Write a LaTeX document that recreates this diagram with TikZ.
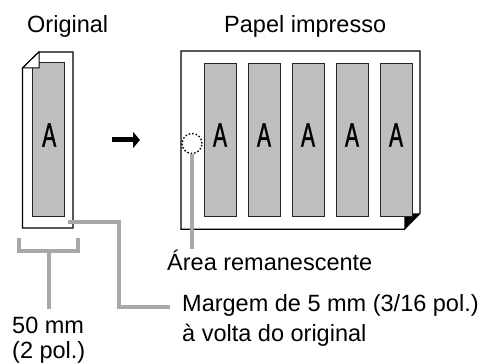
\documentclass[tikz,border=0pt]{standalone}
\usepackage{fontspec}
\setmainfont{Liberation Sans}
\newfontfamily\Afont[FakeBold=1.6]{Liberation Sans}
\usetikzlibrary{arrows.meta}
\definecolor{pagegray}{HTML}{BDBEC0}
\definecolor{leadgray}{HTML}{A6A8AB}
\begin{document}
\begin{tikzpicture}[x=1pt,y=-1pt,
  sheet/.style={draw=black,line width=1.3pt,fill=white,line join=miter},
  printarea/.style={draw=black!85,line width=1pt,fill=pagegray},
  leader/.style={draw=leadgray,line width=3.3pt},
  lbl/.style={anchor=base west,inner sep=0pt,font=\fontsize{23.5}{28}\selectfont},
  bigA/.style={inner sep=0pt,font=\Afont\fontsize{34}{34}\selectfont}]
\useasboundingbox (0,0) rectangle (486,363);

% titles
\node[lbl] (torig) at (27,33) {Original};
\node[lbl] (tprint) at (224,33) {Papel impresso};

% original sheet
\draw[sheet] (39,52) -- (73,52) -- (73,228) -- (22.5,228) -- (22.5,68) -- cycle;
\draw[printarea] (32.3,63) rectangle (64.3,216);
\draw[sheet,line width=1pt] (22.5,68) -- (39,52) -- (39,68) -- cycle;
\node[bigA] (aorig) at (49.2,135) {\scalebox{0.62}[1]{A}};

% arrow
\coordinate (arrS) at (112,140);
\coordinate (arrE) at (140,140);
\draw[line width=5pt,-{Triangle[length=7pt,width=16pt]}] (arrS) -- (arrE);

% printed paper
\draw[sheet] (181,51) -- (420,51) -- (420,213.3) -- (404.3,229.3) -- (181,229.3) -- cycle;
\fill[black] (404.3,213.3) -- (420,213.3) -- (404.3,229.3) -- cycle;
\foreach \i in {0,...,4}{
  \draw[printarea] (204+44*\i,64) rectangle (236+44*\i,216);
  \node[bigA] (a\i) at (220+44*\i,135) {\scalebox{0.62}[1]{A}};
}

% remaining area
\node[circle,draw=black,dash pattern=on 1.5pt off 2pt,line width=1.4pt,minimum size=20pt,inner sep=0pt] (rem) at (192,143.5) {};
\coordinate (remEnd) at (192,249);
\draw[leader] (rem.south) -- (remEnd);
\node[lbl] (trem) at (167,270) {Área remanescente};

% margin leader
\coordinate (mStart) at (68,222);
\coordinate (mEnd) at (170,307);
\draw[leader] (mStart) -- (119,222) -- (119,307) -- (mEnd);
\node[lbl] (tmarg1) at (182,311.5) {Margem de 5 mm (3/16 pol.)};
\node[lbl] (tmarg2) at (182,341.5) {à volta do original};

% width bracket
\coordinate (bL) at (19,238);
\coordinate (bR) at (78,238);
\coordinate (bStem) at (49,309);
\draw[leader] (bL) -- (19,251) -- (78,251) -- (bR);
\draw[leader] (49,251) -- (bStem);
\node[lbl] (tw1) at (12,333) {50 mm};
\node[lbl] (tw2) at (12,358) {(2 pol.)};
\end{tikzpicture}
\end{document}
